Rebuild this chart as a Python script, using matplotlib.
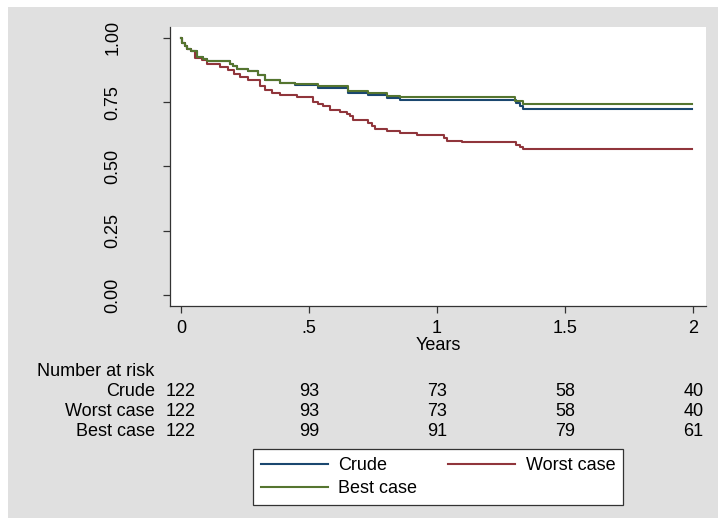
import matplotlib
matplotlib.use("Agg")
import matplotlib.pyplot as plt
import matplotlib.patches as mpatches
import matplotlib.transforms as mtransforms

# ── Data ──────────────────────────────────────────────────────────────────────
# Kaplan-Meier step points: time (years) of each drop and survival after it
crude_t = [0, 0.003, 0.016, 0.025, 0.038, 0.061, 0.087, 0.100, 0.191, 0.203,
           0.218, 0.262, 0.302, 0.328, 0.387, 0.445, 0.534, 0.654, 0.732,
           0.806, 0.855, 1.309, 1.324, 1.337, 1.995]
crude_s = [1.0, 0.980, 0.970, 0.957, 0.948, 0.927, 0.917, 0.908, 0.900, 0.889,
           0.879, 0.870, 0.856, 0.837, 0.826, 0.817, 0.805, 0.787, 0.778,
           0.765, 0.757, 0.746, 0.735, 0.722, 0.722]

worst_t = [0, 0.003, 0.016, 0.025, 0.038, 0.055, 0.081, 0.100, 0.153, 0.185,
           0.205, 0.230, 0.262, 0.309, 0.328, 0.354, 0.387, 0.452, 0.517,
           0.533, 0.556, 0.582, 0.621, 0.647, 0.660, 0.671, 0.732, 0.745,
           0.758, 0.804, 0.855, 0.921, 1.025, 1.038, 1.096, 1.309, 1.324,
           1.337, 1.995]
worst_s = [1.0, 0.980, 0.970, 0.957, 0.948, 0.921, 0.912, 0.900, 0.886, 0.873,
           0.859, 0.849, 0.837, 0.811, 0.796, 0.786, 0.779, 0.770, 0.752,
           0.743, 0.734, 0.721, 0.713, 0.703, 0.694, 0.679, 0.668, 0.657,
           0.646, 0.636, 0.629, 0.621, 0.610, 0.600, 0.593, 0.584, 0.577,
           0.567, 0.567]

best_t = [0, 0.003, 0.016, 0.025, 0.038, 0.061, 0.087, 0.100, 0.191, 0.203,
          0.218, 0.262, 0.302, 0.328, 0.387, 0.445, 0.534, 0.654, 0.732,
          0.806, 0.855, 1.305, 1.337, 1.995]
best_s = [1.0, 0.980, 0.970, 0.957, 0.948, 0.927, 0.917, 0.908, 0.900, 0.889,
          0.879, 0.870, 0.856, 0.837, 0.826, 0.819, 0.811, 0.794, 0.785,
          0.774, 0.768, 0.756, 0.743, 0.743]

series_names = ["Crude", "Worst case", "Best case"]
risk_times = [0, 0.5, 1, 1.5, 2]
risk_crude = [122, 93, 73, 58, 40]
risk_worst = [122, 93, 73, 58, 40]
risk_best = [122, 99, 91, 79, 61]

xticks = [0, 0.5, 1, 1.5, 2]
xtick_labels = ["0", ".5", "1", "1.5", "2"]
yticks = [0, 0.25, 0.5, 0.75, 1.0]
ytick_labels = ["0.00", "0.25", "0.50", "0.75", "1.00"]

# ── Style (Stata s2color look) ────────────────────────────────────────────────
W, H = 718, 525
BG = "#e0e0e0"
NAVY = "#1a476f"
MAROON = "#90353b"
FOREST = "#55752f"
FS = 13

plt.rcParams["font.family"] = ["Liberation Sans", "DejaVu Sans"]

fig = plt.figure(figsize=(W / 100, H / 100), dpi=100)
fig.patch.set_facecolor("white")

def fx(px):
    return px / W

def fy(py):
    return 1 - py / H

# grey graph region
fig.patches.append(mpatches.Rectangle(
    (fx(8), fy(518)), fx(718) - fx(8), fy(7) - fy(518),
    transform=fig.transFigure, facecolor=BG, edgecolor="none", zorder=-10))

ax = fig.add_axes([fx(170), fy(306), fx(706) - fx(170), fy(27) - fy(306)])
ax.set_facecolor("white")

h_crude, = ax.step(crude_t, crude_s, where="post", color=NAVY, lw=1.5)
h_worst, = ax.step(worst_t, worst_s, where="post", color=MAROON, lw=1.5)
h_best, = ax.step(best_t, best_s, where="post", color=FOREST, lw=1.5)

ax.set_xlim(-0.043, 2.05)
ax.set_ylim(-0.043, 1.042)

for side in ("top", "right"):
    ax.spines[side].set_visible(False)
for side in ("left", "bottom"):
    ax.spines[side].set_color("#333333")
    ax.spines[side].set_linewidth(0.9)

ax.set_xticks(xticks)
ax.set_xticklabels(xtick_labels)
ax.set_yticks(yticks)
ax.set_yticklabels(ytick_labels, rotation=90, va="center")
ax.tick_params(axis="x", length=5, width=0.9, color="#333333",
               labelsize=FS, pad=5)
ax.tick_params(axis="y", length=5, width=0.9, color="#333333",
               labelsize=FS, pad=30)

ax.set_xlabel("Years", fontsize=FS)
ax.xaxis.set_label_coords(0.5, (306 - 345) / (306 - 27))
ax.xaxis.label.set_va("center")

# ── Number at risk table ─────────────────────────────────────────────────────
trans = mtransforms.blended_transform_factory(ax.transData, fig.transFigure)
fig.text(fx(37), fy(371), "Number at risk", fontsize=FS, ha="left", va="center")
rows = [(series_names[0], risk_crude, 391),
        (series_names[1], risk_worst, 411),
        (series_names[2], risk_best, 431)]
for name, counts, ypx in rows:
    fig.text(fx(155), fy(ypx), name, fontsize=FS, ha="right", va="center")
    for t, n in zip(risk_times, counts):
        ax.text(t, fy(ypx), str(n), transform=trans, fontsize=FS,
                ha="center", va="center", clip_on=False)

# ── Legend ───────────────────────────────────────────────────────────────────
leg = fig.legend([h_crude, h_best, h_worst],
                 [series_names[0], series_names[2], series_names[1]],
                 ncol=2, loc="center",
                 bbox_to_anchor=(fx(438), fy(477)),
                 fontsize=FS, frameon=True, fancybox=False,
                 handlelength=3.7, handletextpad=0.6, columnspacing=1.7,
                 labelspacing=0.35, borderpad=0.45)
leg.get_frame().set_edgecolor("#333333")
leg.get_frame().set_linewidth(0.9)
leg.get_frame().set_facecolor("white")
leg.get_frame().set_alpha(1)

fig.savefig("out.png", dpi=100, facecolor=fig.get_facecolor())
